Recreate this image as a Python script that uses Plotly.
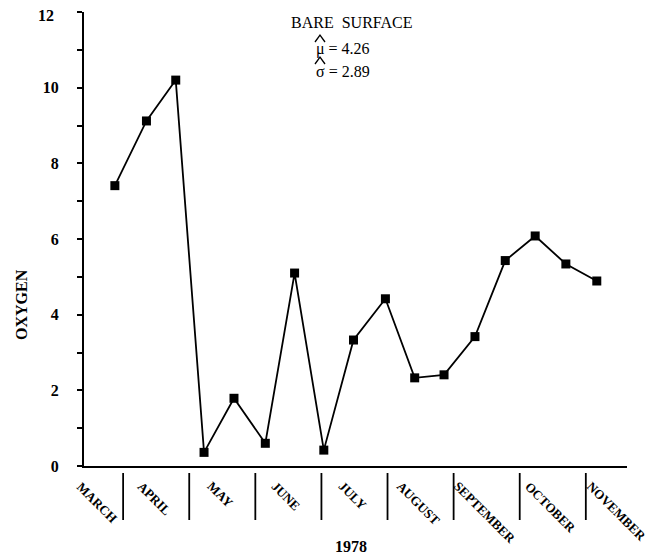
import plotly.graph_objects as go

# Sample positions in "months since March 1, 1978" (March = 0 .. November = 8)
sample_month = [0.875, 1.353, 1.796, 2.224, 2.677, 3.151, 3.594, 4.036, 4.485,
                4.968, 5.411, 5.855, 6.323, 6.781, 7.234, 7.698, 8.166]
oxygen = [7.41, 9.12, 10.2, 0.36, 1.79, 0.60, 5.10, 0.42, 3.33,
          4.42, 2.33, 2.41, 3.42, 5.43, 6.08, 5.34, 4.89]

months = ["MARCH", "APRIL", "MAY", "JUNE", "JULY", "AUGUST",
          "SEPTEMBER", "OCTOBER", "NOVEMBER"]
month_center = [0.5, 1.5, 2.5, 3.5, 4.5, 5.5, 6.5, 7.5, 8.5]
separators = [1, 2, 3, 4, 5, 6, 7, 8]

y_ticks = [0, 2, 4, 6, 8, 10]
y_top = 12   # top tick, labelled separately so it is not cut at the page edge

FONT = "Liberation Serif"

# The page body has an 8px margin, so the figure is drawn 8px smaller.
PX0, PY0 = 84, 466      # plot-area bottom-left in page pixels
PW, PH = 543, 454       # plot-area size in pixels


def px(x):
    return (x - PX0) / PW


def py(y):
    return (PY0 - y) / PH


fig = go.Figure()
fig.add_trace(go.Scatter(
    x=sample_month, y=oxygen, mode="lines+markers",
    line=dict(color="black", width=1.8),
    marker=dict(symbol="square", size=9, color="black"),
    cliponaxis=False, showlegend=False,
))

shapes = []
for s in separators:
    shapes.append(dict(type="line", xref="x", yref="paper", x0=s, x1=s,
                       y0=py(473), y1=py(520),
                       line=dict(color="black", width=1.8)))
# hats over the estimators (mu-hat, sigma-hat)
for yb in (42, 64):
    shapes.append(dict(type="path", xref="paper", yref="paper",
                       path="M %f %f L %f %f L %f %f" % (
                           px(315), py(yb), px(320), py(yb - 7),
                           px(325), py(yb)),
                       line=dict(color="black", width=1.3)))

annotations = []
for i, (m, xc) in enumerate(zip(months, month_center)):
    annotations.append(dict(
        text="<b>%s</b>" % m, xref="x", yref="paper", x=xc, y=py(476),
        xshift=(7 if i == 0 else -2), xanchor="center", yanchor="top",
        textangle=45, showarrow=False,
        font=dict(family=FONT, size=13, color="black")))

annotations.append(dict(text="<b>%d</b>" % y_top, xref="paper", yref="y",
                        x=0, y=y_top, xshift=-28, yshift=-3,
                        xanchor="right", yanchor="middle", showarrow=False,
                        font=dict(family=FONT, size=16, color="black")))
annotations.append(dict(text="<b>1978</b>", xref="paper", yref="paper",
                        x=px(351), y=py(546), xanchor="center", yanchor="middle",
                        showarrow=False, font=dict(family=FONT, size=16, color="black")))
annotations.append(dict(text="<b>OXYGEN</b>", xref="paper", yref="paper",
                        x=px(21), y=py(305), xanchor="center", yanchor="middle",
                        textangle=-90, showarrow=False,
                        font=dict(family=FONT, size=16, color="black")))
annotations.append(dict(text="BARE  SURFACE", xref="paper", yref="paper",
                        x=px(289), y=py(23), xanchor="left", yanchor="middle",
                        showarrow=False, font=dict(family=FONT, size=16, color="black")))
annotations.append(dict(text="\u03bc = 4.26", xref="paper", yref="paper",
                        x=px(314), y=py(49), xanchor="left", yanchor="middle",
                        showarrow=False, font=dict(family=FONT, size=16, color="black")))
annotations.append(dict(text="\u03c3 = 2.89", xref="paper", yref="paper",
                        x=px(314), y=py(71), xanchor="left", yanchor="middle",
                        showarrow=False, font=dict(family=FONT, size=16, color="black")))

fig.update_layout(
    width=655, height=551,
    margin=dict(l=76, r=36, t=4, b=93),
    paper_bgcolor="white", plot_bgcolor="white",
    font=dict(family=FONT, color="black"),
    shapes=shapes, annotations=annotations,
    xaxis=dict(range=[0.408, 8.623], showgrid=False, zeroline=False,
               showline=True, linecolor="black", linewidth=2,
               showticklabels=False, ticks="", automargin=False),
    yaxis=dict(range=[0, 12], tickvals=y_ticks, showgrid=False, zeroline=False,
               showline=True, linecolor="black", linewidth=2,
               ticks="outside", ticklen=5, tickwidth=1.5, tickcolor="black",
               minor=dict(dtick=1, ticks="outside", ticklen=5, tickwidth=1.5,
                          tickcolor="black"),
               ticklabelstandoff=15, automargin=False,
               tickfont=dict(family=FONT, size=16, color="black",
                             weight="bold")),
)

fig.write_html("out.html")
